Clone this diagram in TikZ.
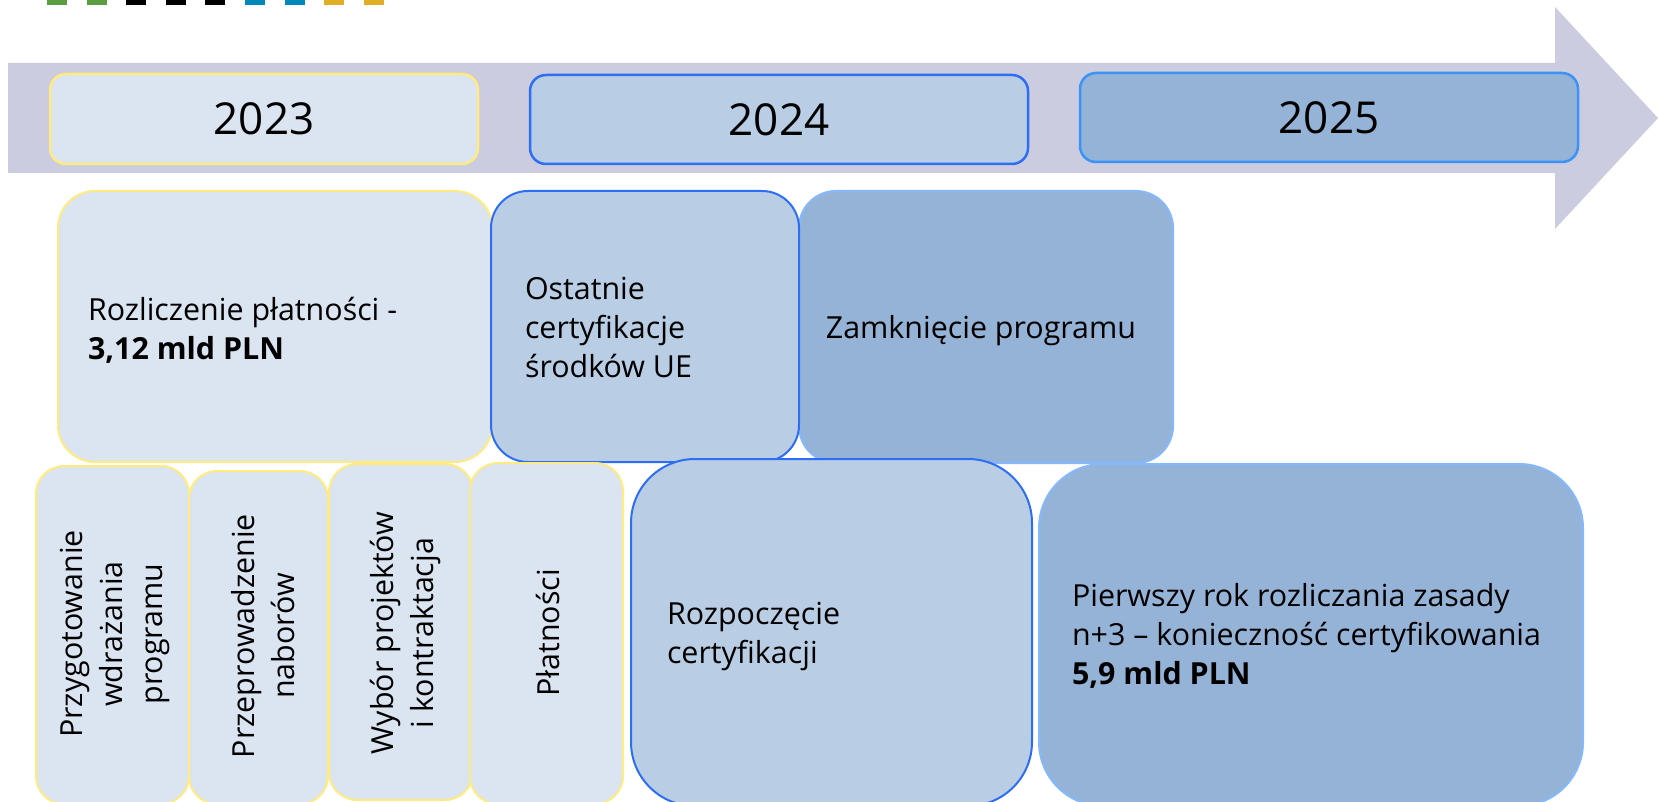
\documentclass[tikz,border=0pt]{standalone}
\usepackage{fontspec}
\setmainfont{Open Sans}
\definecolor{bandc}{HTML}{CBCCDF}
\definecolor{fillA}{HTML}{DBE4F1}
\definecolor{fillB}{HTML}{B9CDE5}
\definecolor{fillC}{HTML}{95B3D7}
\definecolor{yelb}{HTML}{FFEB80}
\definecolor{blub}{HTML}{2E6EF2}
\definecolor{blub2}{HTML}{3B92F7}
\definecolor{ltb}{HTML}{85B8FC}
\definecolor{dgreen}{HTML}{5B9E42}
\definecolor{dblue}{HTML}{0088B8}
\definecolor{dyellow}{HTML}{E0AF25}
\tikzset{
  yearbox/.style={rectangle, rounded corners=16pt, line width=2.5pt, outer sep=0pt, inner sep=0pt,
     font={\fontsize{44}{52}\selectfont}},
  cardbox/.style={rectangle, rounded corners=37pt, line width=2pt, outer sep=0pt, inner sep=0pt},
  tallbox/.style={rectangle, rounded corners=28pt, line width=2pt, outer sep=0pt, inner sep=0pt, draw=yelb, fill=fillA},
  bigbox/.style={rectangle, rounded corners=64pt, line width=2pt, outer sep=0pt, inner sep=0pt},
  txt/.style={inner sep=0pt, outer sep=0pt, align=left, font={\fontsize{30.4}{39}\selectfont}},
  rtxt/.style={inner sep=0pt, outer sep=0pt, align=center, rotate=90, font={\fontsize{30.4}{40}\selectfont}}
}
\begin{document}
\begin{tikzpicture}[x=1pt,y=-1pt]
\useasboundingbox (0,0) rectangle (1658,802);
% top dashes
\foreach \xx/\cc in {47/dgreen,87/dgreen,126/black,166/black,205/black,245/dblue,285/dblue,324/dyellow,364/dyellow}
  \fill[\cc] (\xx,0) rectangle ++(20,5);
% timeline arrow
\fill[bandc] (8,63) -- (1555,63) -- (1555,7) -- (1658,118) -- (1555,229) -- (1555,173) -- (8,173) -- cycle;
% year boxes
\node[yearbox, draw=yelb, fill=fillA, minimum width=428pt, minimum height=90pt] (y23) at (264,119) {2023};
\node[yearbox, draw=blub, fill=fillB, minimum width=498pt, minimum height=89pt] (y24) at (779,119.5) {2024};
\node[yearbox, draw=blub2, fill=fillC, minimum width=498pt, minimum height=89pt] (y25) at (1329,117.5) {2025};
% upper cards
\node[cardbox, draw=yelb, fill=fillA, minimum width=434pt, minimum height=271pt] (roz) at (275,326.5) {};
\node[cardbox, draw=ltb, fill=fillC, minimum width=374pt, minimum height=272pt] (zam) at (986,327) {};
\node[cardbox, draw=blub, fill=fillB, minimum width=308pt, minimum height=271pt] (ost) at (645,326.5) {};
\node[txt, anchor=west] (rozt) at ([xshift=30pt]roz.west |- 0,330) {Rozliczenie płatności -\\\textbf{3,12 mld PLN}};
\node[txt, anchor=west] (ostt) at ([xshift=34pt]ost.west |- 0,327.5) {Ostatnie\\certyfikacje\\środków UE};
\node[txt] (zamt) at (981,331) {Zamknięcie programu};
% lower tall boxes
\node[tallbox, minimum width=153pt, minimum height=338pt] (b1) at (112.5,635) {};
\node[tallbox, minimum width=139pt, minimum height=333pt] (b2) at (258.5,637.5) {};
\node[tallbox, minimum width=144pt, minimum height=336pt] (b3) at (401,632) {};
\node[tallbox, minimum width=153pt, minimum height=341pt] (b4) at (546.5,633.5) {};
\node[rtxt] (b1t) at (115,634) {Przygotowanie\\wdrażania\\programu};
\node[rtxt] (b2t) at (263,636) {Przeprowadzenie\\naborów};
\node[rtxt] (b3t) at (406,633) {Wybór projektów\\i kontraktacja};
\node[rtxt] (b4t) at (548,633) {Płatności};
% lower big boxes
\node[bigbox, draw=blub, fill=fillB, minimum width=401pt, minimum height=347pt] (rozp) at (831.5,632.5) {};
\node[bigbox, draw=ltb, fill=fillC, minimum width=544pt, minimum height=342pt] (pier) at (1311,635) {};
\node[txt, anchor=west] (rozpt) at ([xshift=36pt]rozp.west |- 0,636.4) {Rozpoczęcie\\certyfikacji};
\node[txt, anchor=west] (piert) at ([xshift=33pt]pier.west |- 0,636.2) {Pierwszy rok rozliczania zasady\\n+3 – konieczność certyfikowania\\\textbf{5,9 mld PLN}};
\end{tikzpicture}
\end{document}
